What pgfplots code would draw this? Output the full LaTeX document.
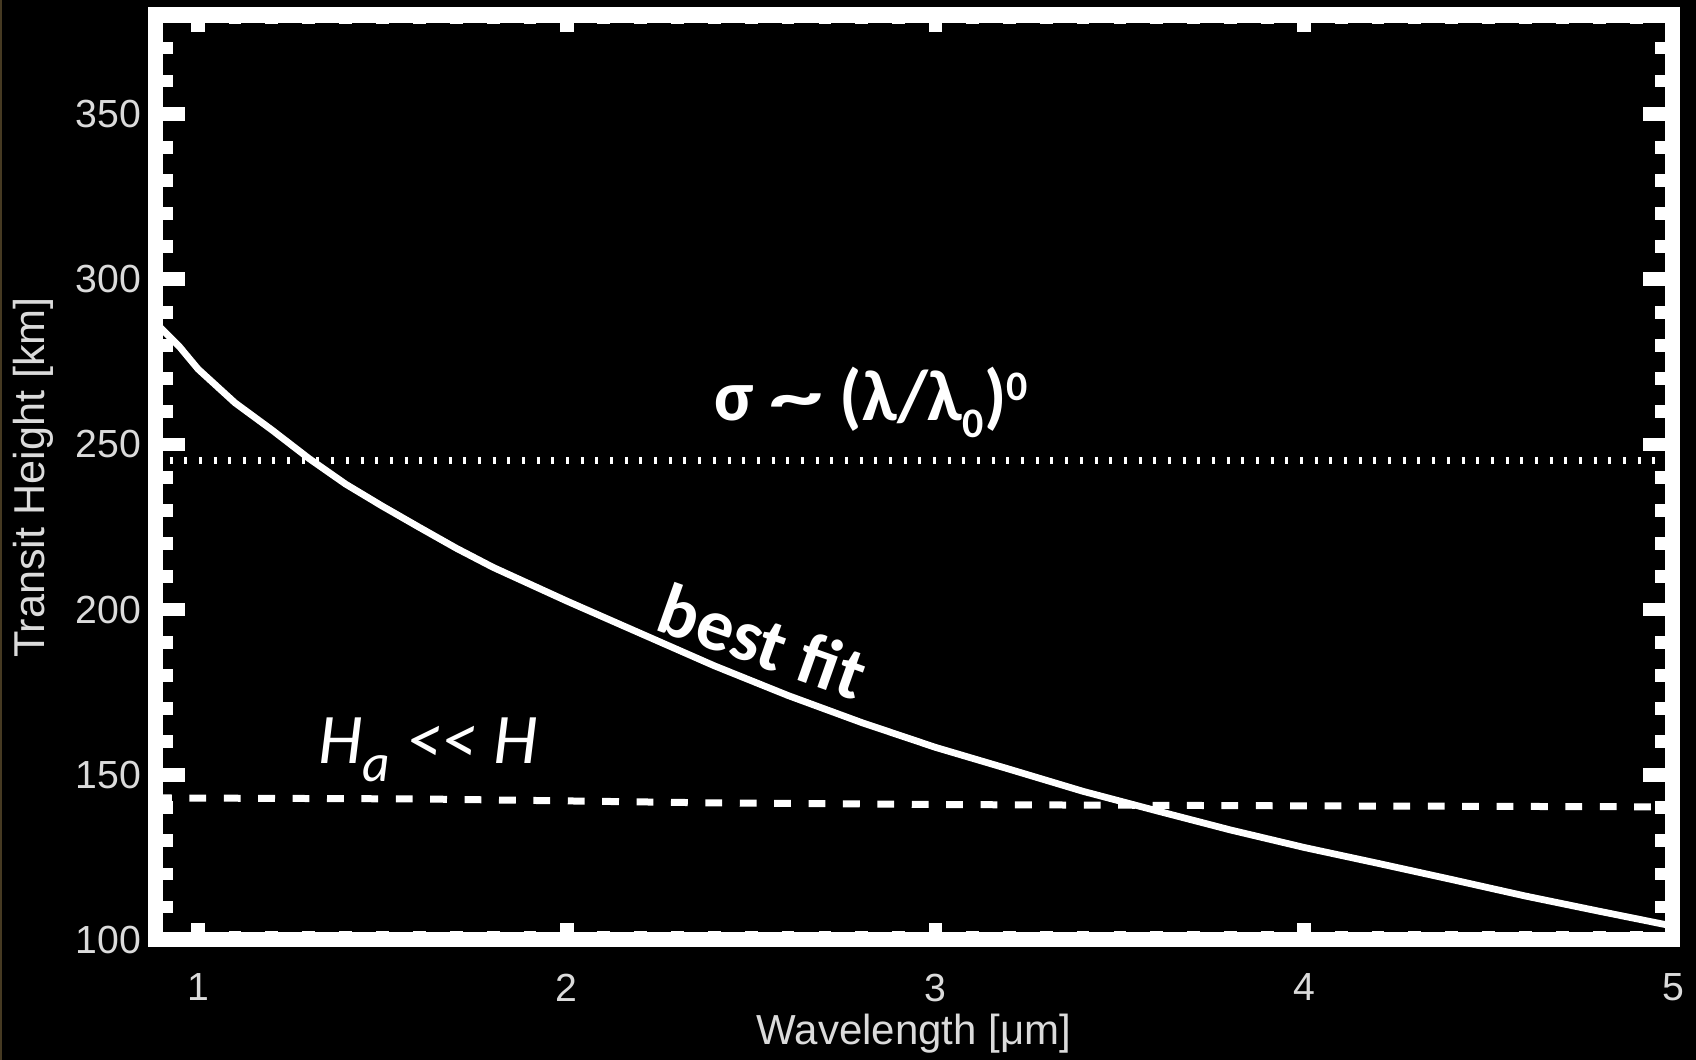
\documentclass[border=0pt]{standalone}
\usepackage{fontspec}
\usepackage{graphicx}
\usepackage{pgfplots}
\pgfplotsset{compat=1.18}
\setmainfont{Liberation Sans}
\newfontfamily\calibri{Carlito}

\definecolor{labelgray}{gray}{0.86}
\definecolor{edgebrown}{RGB}{70,58,34}

% best-fit transit height versus wavelength
\pgfplotstableread{
lambda  height
0.883   287.0
0.95    279.5
1.0     272.8
1.1     262.6
1.2     254.4
1.3     245.8
1.4     238.0
1.5     231.3
1.6     224.9
1.7     218.6
1.8     212.8
1.9     207.7
2.0     202.6
2.2     192.8
2.4     183.0
2.6     174.0
2.8     165.8
3.0     158.3
3.2     151.7
3.4     145.0
3.6     139.1
3.8     133.3
4.0     128.0
4.2     123.2
4.4     118.3
4.6     113.3
4.8     108.7
5.0     104.2
}\bestfit

% small aerosol scale height (H_a << H)
\pgfplotstableread{
lambda  height
0.883   143.0
1.6     142.7
2.4     141.5
3.0     141.0
4.0     140.6
5.0     140.3
}\smallscale

% grey cross-section, sigma ~ (lambda/lambda_0)^0
\pgfplotstableread{
lambda  height
0.883   245.1
5.0     245.1
}\greyflat

\pgfplotsset{
  idlbox/.style={
    width=379.5pt, height=231.25pt, scale only axis,
    at={(38.75pt,30pt)}, anchor=south west,
    xmin=0.883, xmax=5, ymin=100, ymax=380,
    tick align=inside,
    tick style={white, line width=3.4pt},
    minor tick style={white, line width=3.2pt},
    /pgf/number format/assume math mode=true,
  },
}

\begin{document}
\begin{tikzpicture}
\fill[black] (0,0) rectangle (424pt,265pt);
\fill[edgebrown] (0,0) rectangle (0.4pt,265pt);

% frame, curves and wavelength ticks
\begin{axis}[idlbox,
  axis on top,
  axis line style={white, line width=3.75pt},
  xtick={1,2,3,4,5},
  minor xtick={1,1.1,...,5},
  ytick=\empty,
  major tick length=4.2pt, minor tick length=2.3pt,
  xticklabel style={font=\fontsize{9.8}{11}\selectfont, text=labelgray,
    inner sep=0pt, anchor=north, yshift=-8.25pt},
  xlabel={Wavelength [μm]},
  every axis x label/.style={at={(axis description cs:0.5,0)}, yshift=-23.5pt,
    anchor=center, font=\fontsize{10.5}{12}\selectfont, text=labelgray},
]
\addplot[white, line width=1.7pt] table[x=lambda, y=height] {\bestfit};
\addplot[white, line width=1.75pt, dash pattern=on 4.2pt off 4.4pt]
  table[x=lambda, y=height] {\smallscale};
\addplot[white, line width=1.75pt, dash pattern=on 0.75pt off 2.92pt]
  table[x=lambda, y=height] {\greyflat};

\node[anchor=base west, inner sep=0pt, text=white,
  font=\calibri\bfseries\fontsize{18}{20}\selectfont]
  at (axis cs:2.397,257.3)
  {σ \scalebox{1.5}[1.0]{\textasciitilde} (λ/λ\raisebox{-0.24em}{\fontsize{10.5}{12}\selectfont 0})\raisebox{0.28em}{\fontsize{10.5}{12}\selectfont 0}};
\node[anchor=base west, inner sep=0pt, text=white, rotate=-19.5,
  font=\calibri\bfseries\fontsize{18.4}{20}\selectfont]
  at (axis cs:2.234,194.1) {best fit};
\node[anchor=base west, inner sep=0pt, text=white,
  font=\calibri\itshape\fontsize{17.8}{20}\selectfont]
  at (axis cs:1.323,153.4)
  {H\raisebox{-0.25em}{\fontsize{13.4}{14}\selectfont a} <\kern0pt< H};
\end{axis}

% transit-height ticks and labels
\begin{axis}[idlbox,
  axis line style={draw=none},
  xtick=\empty,
  ytick={100,150,...,350},
  minor ytick={100,110,...,370},
  major tick length=7.6pt, minor tick length=4.4pt,
  yticklabel style={font=\fontsize{9.8}{11}\selectfont, text=labelgray,
    inner sep=0pt, anchor=east, xshift=-3.25pt},
  ylabel={Transit Height [km]},
  every axis y label/.style={at={(axis description cs:0,0.5)}, xshift=-30.5pt,
    rotate=90, anchor=center, font=\fontsize{10.8}{12}\selectfont, text=labelgray},
]
\end{axis}

\pgfresetboundingbox
\useasboundingbox (0,0) rectangle (424pt,265pt);
\end{tikzpicture}
\end{document}
